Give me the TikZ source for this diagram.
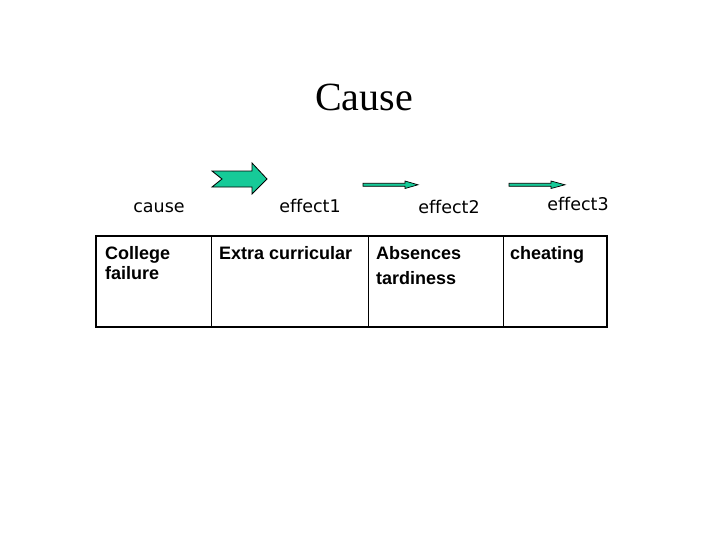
\documentclass[tikz,border=0pt]{standalone}
\usepackage{fontspec}
\setmainfont{Liberation Serif}
\setsansfont{Liberation Sans}
\newfontfamily\labelfont[Ligatures=NoCommon]{DejaVu Sans}
\usetikzlibrary{positioning}
\definecolor{arrowgreen}{RGB}{22,202,152}
\tikzset{
    cell/.style={draw, line width=1pt, outer sep=0pt, inner sep=0pt, minimum height=91pt},
    celltext/.style={inner sep=0pt, align=left, anchor=north west, font=\sffamily\bfseries\fontsize{18}{19.5}\selectfont},
    steplabel/.style={anchor=base, font=\labelfont\fontsize{17.5}{20}\selectfont},
    blockarrow/.style={fill=arrowgreen, draw=black, line width=0.8pt, line join=miter}
}
\begin{document}
\begin{tikzpicture}[x=1pt, y=-1pt]
    \useasboundingbox (0,0) rectangle (728,546);
    \node[anchor=base, font=\fontsize{40}{44}\selectfont] (title) at (364,110) {Cause};

    % arrows between the steps
    \filldraw[blockarrow] (212,171) -- (252,171) -- (252,163) -- (267,179) -- (252,194)
        -- (252,187) -- (212,187) -- (222,179) -- cycle;
    \filldraw[blockarrow, line width=0.7pt] (363,183.3) -- (405,183.3) -- (405,181) -- (418,184.8)
        -- (405,188.5) -- (405,186.3) -- (363,186.3) -- cycle;
    \filldraw[blockarrow, line width=0.7pt] (509,183.3) -- (551,183.3) -- (551,181) -- (565,184.8)
        -- (551,188.5) -- (551,186.3) -- (509,186.3) -- cycle;

    \node[steplabel] (cause) at (159,212) {cause};
    \node[steplabel] (effect1) at (310,212) {effect1};
    \node[steplabel] (effect2) at (449,213) {effect2};
    \node[steplabel] (effect3) at (578,210) {effect3};

    % table cells
    \node[cell, minimum width=115pt, anchor=north west] (c1) at (96,236) {};
    \node[cell, minimum width=157pt, right=0pt of c1] (c2) {};
    \node[cell, minimum width=135pt, right=0pt of c2] (c3) {};
    \node[cell, minimum width=104pt, right=0pt of c3] (c4) {};
    \draw[line width=1.8pt] (c1.north west) rectangle (c4.south east);

    \node[celltext, below right=10.5pt and 9pt of c1.north west] (t1) {College\\failure};
    \node[celltext, below right=10.5pt and 8pt of c2.north west] (t2) {Extra curricular};
    \node[celltext, below right=10.5pt and 8pt of c3.north west] (t3) {Absences\\[5pt]tardiness};
    \node[celltext, below right=10.5pt and 7pt of c4.north west] (t4) {cheating};
\end{tikzpicture}
\end{document}
